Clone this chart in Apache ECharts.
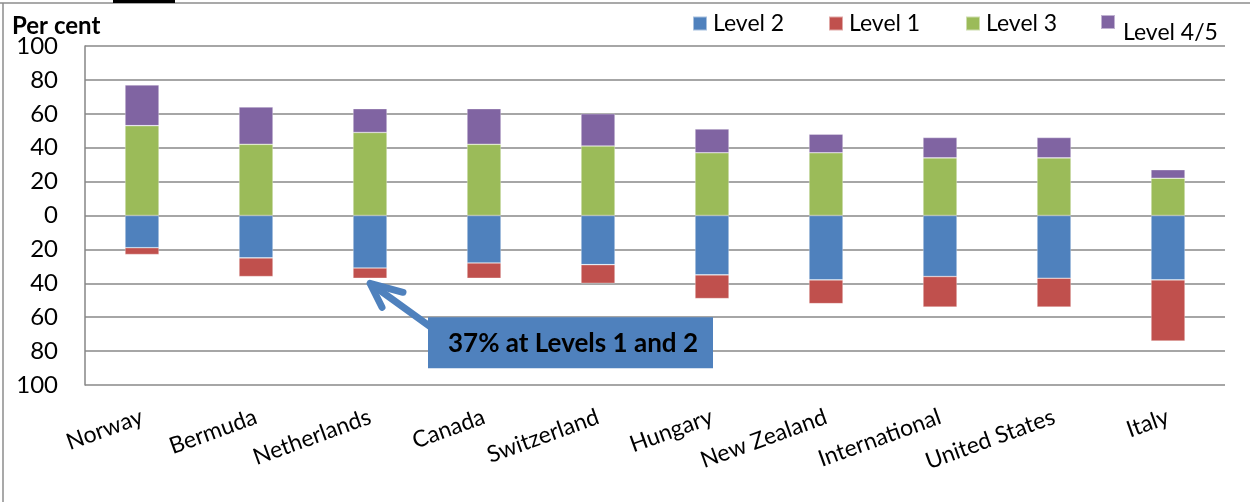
<!DOCTYPE html>
<html>
<head>
<meta charset="utf-8">
<script src="https://cdn.jsdelivr.net/npm/echarts@6/dist/echarts.min.js"></script>
<style>
  html, body { margin: 0; padding: 0; background: #fff; }
  #chart { width: 1250px; height: 502px; }
</style>
</head>
<body>
<div id="chart"></div>
<script>
// Share of adults at each proficiency level, by country (per cent)
const countries = ['Norway', 'Bermuda', 'Netherlands', 'Canada', 'Switzerland',
                   'Hungary', 'New Zealand', 'International', 'United States', 'Italy'];
// Lower levels are drawn below the zero line
const level2 = [19, 25, 31, 28, 29, 35, 38, 36, 37, 38];
const level1 = [4, 11, 6, 9, 11, 14, 14, 18, 17, 36];
// Higher levels are drawn above the zero line
const level3 = [53, 42, 49, 42, 41, 37, 37, 34, 34, 22];
const level45 = [24, 22, 14, 21, 19, 14, 11, 12, 12, 5];

const yTicks = { min: -100, max: 100, step: 20 };
const calloutText = '37% at Levels 1 and 2';
const calloutTarget = ['Netherlands', -40];

const FONT = 'Lato, "Open Sans", sans-serif';
const COLORS = { l2: '#4F81BD', l1: '#C0504D', l3: '#9BBB59', l45: '#8064A2' };

const chart = echarts.init(document.getElementById('chart'), null, { renderer: 'canvas' });

function barSeries(name, values, color, sign) {
  return {
    name: name,
    type: 'bar',
    stack: 'levels',
    barWidth: 34,
    data: values.map(v => sign * v),
    itemStyle: { color: color, borderColor: 'rgba(255,255,255,0.5)', borderWidth: 0.6 },
    emphasis: { disabled: true }
  };
}

// One legend block per entry so each sits at its own spot in the header
function legendItem(name, left, top, extra) {
  return Object.assign({
    data: [name],
    left: left, top: top,
    padding: 0,
    itemWidth: 14, itemHeight: 14,
    icon: 'rect',
    selectedMode: false,
    textStyle: { fontFamily: FONT, fontSize: 23, color: '#000', padding: [0, 0, 0, 1] }
  }, extra || {});
}

const option = {
  animation: false,
  backgroundColor: '#ffffff',
  textStyle: { fontFamily: FONT },
  grid: { left: 85, right: 25, top: 46, bottom: 117, containLabel: false },
  legend: [
    legendItem('Level 2', 692, 12),
    legendItem('Level 1', 828, 12),
    legendItem('Level 3', 965, 12),
    legendItem('Level 4/5', 1100, 0, {
      formatter: name => '\n' + name,
      textStyle: { fontFamily: FONT, fontSize: 23, lineHeight: 21, color: '#000', padding: [0, 0, 0, 3] }
    })
  ],
  xAxis: {
    type: 'category',
    data: countries,
    axisLine: { show: false },
    axisTick: { show: false },
    axisLabel: {
      interval: 0, rotate: 20, margin: 31,
      fontFamily: FONT, fontSize: 23, color: '#000'
    }
  },
  yAxis: {
    type: 'value',
    min: yTicks.min, max: yTicks.max, interval: yTicks.step,
    axisLine: { show: true, lineStyle: { color: '#868686', width: 1.5 } },
    axisTick: { show: false },
    axisLabel: {
      margin: 27,
      fontFamily: FONT, fontSize: 24, color: '#000',
      formatter: v => String(Math.abs(v))
    },
    splitLine: { lineStyle: { color: '#888888', width: 1.6 } }
  },
  series: [
    barSeries('Level 2', level2, COLORS.l2, -1),
    barSeries('Level 1', level1, COLORS.l1, -1),
    barSeries('Level 3', level3, COLORS.l3, 1),
    barSeries('Level 4/5', level45, COLORS.l45, 1)
  ]
};

chart.setOption(option);

// Frame, axis caption and the callout arrow pointing at the Netherlands bar
const tip = chart.convertToPixel({ gridIndex: 0 }, calloutTarget);
const box = { x: tip[0] + 58, y: tip[1] + 34, w: 285, h: 51 };
chart.setOption({
  graphic: [
    { id: 'frameTop', type: 'line', shape: { x1: 0, y1: 3, x2: 1250, y2: 3 },
      style: { stroke: '#8c8c8c', lineWidth: 1.5 }, silent: true },
    { id: 'frameLeft', type: 'line', shape: { x1: 3, y1: 3, x2: 3, y2: 502 },
      style: { stroke: '#8c8c8c', lineWidth: 1.5 }, silent: true },
    { id: 'titleMark', type: 'rect', shape: { x: 113, y: 0, width: 62, height: 3 },
      style: { fill: '#000' }, silent: true },
    { id: 'caption', type: 'text', x: 12, y: 26,
      style: { text: 'Per cent', font: 'bold 24px ' + FONT, fill: '#000',
               textAlign: 'left', textVerticalAlign: 'middle' }, silent: true },
    { id: 'arrowShaft', type: 'polyline',
      shape: { points: [[box.x + 6, box.y + 12], [tip[0] + 3, tip[1] + 2]] },
      style: { stroke: COLORS.l2, lineWidth: 7, lineCap: 'round' }, silent: true },
    { id: 'arrowHead', type: 'polyline',
      shape: { points: [[tip[0] + 33, tip[1] + 9], [tip[0], tip[1]], [tip[0] + 12, tip[1] + 24]] },
      style: { stroke: COLORS.l2, lineWidth: 7, lineCap: 'round', lineJoin: 'round', fill: null },
      silent: true },
    { id: 'calloutBox', type: 'rect',
      shape: { x: box.x, y: box.y, width: box.w, height: box.h },
      style: { fill: COLORS.l2 }, silent: true },
    { id: 'calloutText', type: 'text',
      x: box.x + 20, y: box.y + box.h / 2 + 1,
      style: { text: calloutText, font: 'bold 26px ' + FONT, fill: '#000',
               textAlign: 'left', textVerticalAlign: 'middle' }, silent: true }
  ]
});
</script>
</body>
</html>
